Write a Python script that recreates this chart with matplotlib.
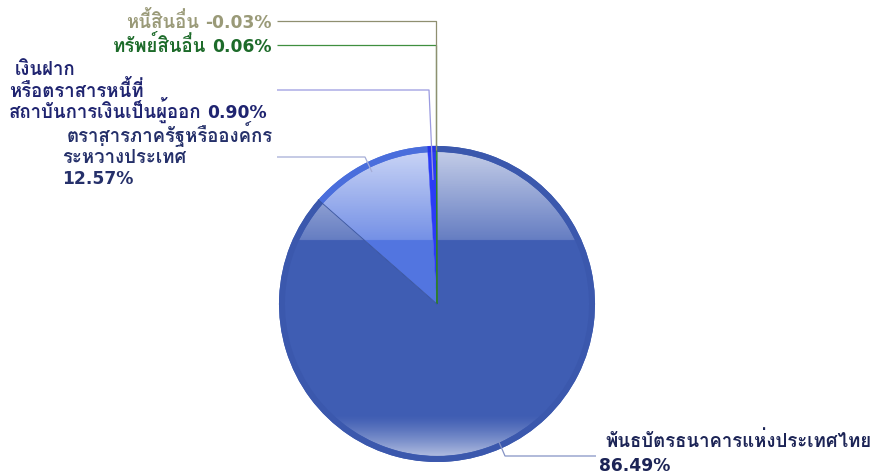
import re
import numpy as np
import matplotlib
matplotlib.use('Agg')
import matplotlib.pyplot as plt
from matplotlib.patches import Circle

# ---- data ----
categories = ['พันธบัตรธนาคารแห่งประเทศไทย',
              'ตราสารภาครัฐหรือองค์กรระหว่างประเทศ',
              'เงินฝากหรือตราสารหนี้ที่สถาบันการเงินเป็นผู้ออก',
              'ทรัพย์สินอื่น',
              'หนี้สินอื่น']
values = [86.49, 12.57, 0.90, 0.06, -0.03]
label_lines = [['พันธบัตรธนาคารแห่งประเทศไทย', '86.49%'],
               ['ตราสารภาครัฐหรือองค์กร', 'ระหว่างประเทศ', '12.57%'],
               ['เงินฝาก', 'หรือตราสารหนี้ที่', 'สถาบันการเงินเป็นผู้ออก 0.90%'],
               ['ทรัพย์สินอื่น 0.06%'],
               ['หนี้สินอื่น -0.03%']]
slice_colors = ['#3f5db3', '#5275e0', '#2b3cf5', '#2f7d2f', '#9a9a7a']
rim_colors = ['#3b58ad', '#4a6edc', '#2634e8', '#2f7d2f', '#9a9a7a']
text_colors = ['#1c2456', '#25306a', '#1f2470', '#1d6b2a', '#9a9a78']
line_colors = ['#8593c4', '#a4acd6', '#9a9ae0', '#3f8f3f', '#8f8f70']

W, H = 874, 474
fig = plt.figure(figsize=(W / 100, H / 100), dpi=100)
ax = fig.add_axes([0, 0, 1, 1])

def Y(y):
    return H - y

cx, cy, R = 437, Y(304), 158
rim = 6

pos_vals = [v for v in values if v > 0]
n = len(pos_vals)
wedges, _ = ax.pie(pos_vals, colors=slice_colors[:n], startangle=90, counterclock=False,
                   center=(cx, cy), radius=R, frame=True,
                   wedgeprops=dict(linewidth=0, antialiased=True))
for w, lw in zip(wedges[2:], [0.3, 0.7]):
    w.set_edgecolor(w.get_facecolor())
    w.set_linewidth(lw)
    w.set_zorder(2.5)

# gloss overlay clipped to the inner disc
ys = np.linspace(Y(304 - R), Y(304 + R), 400)
ypx = H - ys
alpha = np.zeros_like(ypx)
top = (ypx >= 146) & (ypx <= 240)
t = (ypx[top] - 146) / (240 - 146)
alpha[top] = 0.72 * (1 - t) + 0.2 * t
bot = (ypx >= 415)
tb = np.clip((ypx[bot] - 415) / (458 - 415), 0, 1)
alpha[bot] = 0.62 * tb ** 1.3
img = np.ones((len(ys), 2, 4))
img[:, :, 3] = alpha[:, None]
im = ax.imshow(img, extent=(cx - R, cx + R, Y(304 + R), Y(304 - R)),
               origin='upper', aspect='auto', zorder=2, interpolation='bilinear')
im.set_clip_path(Circle((cx, cy), R - rim, transform=ax.transData))

# rim ring
ax.pie(pos_vals, colors=rim_colors[:n], startangle=90, counterclock=False,
       center=(cx, cy), radius=R, frame=True,
       wedgeprops=dict(width=rim, linewidth=0, zorder=3))
ax.set_xlim(0, W)
ax.set_ylim(0, H)
ax.set_aspect('equal')
ax.axis('off')

# separator between big and 12.57 slices
ang = np.deg2rad(90 - 360 * pos_vals[0] / sum(pos_vals))
ax.plot([cx, cx + R * np.cos(ang)], [cy, cy + R * np.sin(ang)],
        color='#34509c', lw=0.6, zorder=4)

# leader lines (pixel coords)
leaders = [
    [(499, 442), (505, 456), (596, 456)],
    [(372, 172), (365, 157), (277, 157)],
    [(433, 180), (429, 90), (277, 90)],
    [(436, 160), (436, 45), (277, 45)],
    [(436, 150), (436, 21), (277, 21)],
]
for pts, c in zip(leaders, line_colors):
    ax.plot([p[0] for p in pts], [Y(p[1]) for p in pts], color=c, lw=0.9,
            zorder=5, solid_capstyle='butt')

fam_thai = ['Loma', 'DejaVu Sans']
fam_num = ['DejaVu Sans', 'Loma']
fs_thai, fs_num = 13.4, 12.3
gap = 6
renderer = fig.canvas.get_renderer()

def width_of(t):
    return t.get_window_extent(renderer).width

def draw_line(x, yb, s, ha, color):
    m = re.match(r'^(.*?)\s*(-?[\d.]+%)?$', s)
    thai, num = m.group(1), m.group(2)
    kw = dict(va='baseline', fontweight='bold', color=color, zorder=6)
    if ha == 'left':
        cur = x
        if thai:
            t = ax.text(cur, Y(yb), thai, ha='left', fontsize=fs_thai, family=fam_thai, **kw)
            cur += width_of(t) + gap
        if num:
            ax.text(cur, Y(yb), num, ha='left', fontsize=fs_num, family=fam_num, **kw)
    else:
        cur = x
        if num:
            t = ax.text(cur, Y(yb), num, ha='right', fontsize=fs_num, family=fam_num, **kw)
            cur -= width_of(t) + gap
        if thai:
            ax.text(cur, Y(yb), thai, ha='right', fontsize=fs_thai, family=fam_thai, **kw)

# per-line placements: list of (x, baseline) and alignment
placements = [
    ([(605, 447), (599, 471)], 'left'),
    ([(67, 142), (62, 163), (62, 184)], 'left'),
    ([(15, 75), (9, 97), (9, 118)], 'left'),
    ([(272, 52)], 'right'),
    ([(272, 28)], 'right'),
]
for lines, (pts, ha), c in zip(label_lines, placements, text_colors):
    for ln, (x, b) in zip(lines, pts):
        draw_line(x, b, ln, ha, c)

fig.savefig('out.png', dpi=100)
